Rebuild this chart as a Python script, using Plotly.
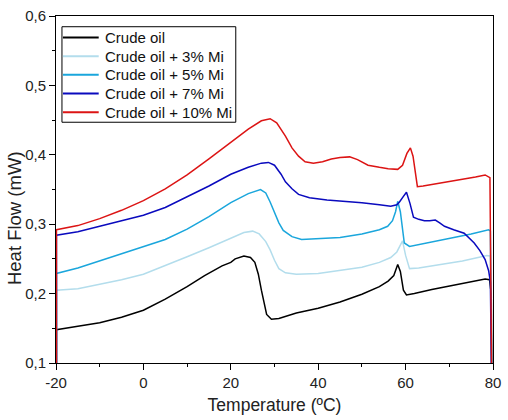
import plotly.graph_objects as go

FONT = "Liberation Sans, Arial, sans-serif"

series_names = ["Crude oil", "Crude oil + 3% Mi", "Crude oil + 5% Mi",
                "Crude oil + 7% Mi", "Crude oil + 10% Mi"]
series_colors = ["#000000", "#B3DDEC", "#1AA6DC", "#0A0ABE", "#DC1414"]

x_tickvals = [-20, 0, 20, 40, 60, 80]
x_ticktext = ["-20", "0", "20", "40", "60", "80"]
y_tickvals = [0.1, 0.2, 0.3, 0.4, 0.5, 0.6]
y_ticktext = ["0,1", "0,2", "0,3", "0,4", "0,5", "0,6"]

t_crude = [-19.9, -19.9, -15, -10, -5, 0, 5, 10, 14, 18, 20, 21, 23, 24.5, 25.5, 26.3, 27, 27.6,
           28.2, 29.3, 31, 35, 40, 45, 50, 54, 56, 57.3, 58.2, 58.8, 59.5, 60.2, 62, 66, 70, 75,
           78.2, 79.2, 79.6, 79.8]
v_crude = [0.0, 0.148, 0.153, 0.158, 0.166, 0.176, 0.192, 0.21, 0.226, 0.240, 0.245, 0.250, 0.254,
           0.252, 0.245, 0.228, 0.205, 0.185, 0.170, 0.163, 0.164, 0.172, 0.179, 0.188, 0.199, 0.21,
           0.218, 0.226, 0.242, 0.232, 0.205, 0.198, 0.200, 0.206, 0.211, 0.217, 0.221, 0.22, 0.2,
           0.0]

t_mi3 = [-19.9, -19.9, -15, -10, -5, 0, 5, 10, 15, 20, 23, 25, 26.5, 28, 29, 30, 31, 32.5, 35, 40,
         45, 50, 54, 56.6, 58, 59.3, 60, 60.9, 63, 68, 73, 78.6, 79.4, 79.8]
v_mi3 = [0.0, 0.205, 0.207, 0.213, 0.22, 0.228, 0.24, 0.253, 0.266, 0.280, 0.288, 0.29, 0.286,
         0.275, 0.263, 0.248, 0.236, 0.23, 0.228, 0.229, 0.233, 0.238, 0.245, 0.252, 0.26, 0.276,
         0.255, 0.236, 0.237, 0.242, 0.247, 0.255, 0.254, 0.0]

t_mi5 = [-19.9, -19.9, -15, -10, -5, 0, 5, 10, 15, 20, 24, 26.8, 28, 29, 29.8, 31, 32, 34, 36.2,
         40, 45, 50, 54, 55.9, 57, 57.7, 58.2, 58.8, 59.3, 59.7, 60.9, 65, 70, 75, 79, 79.4, 79.8]
v_mi5 = [0.0, 0.229, 0.237, 0.247, 0.257, 0.267, 0.278, 0.293, 0.311, 0.331, 0.344, 0.350, 0.345,
         0.332, 0.319, 0.302, 0.291, 0.282, 0.278, 0.279, 0.281, 0.286, 0.292, 0.297, 0.305, 0.318,
         0.333, 0.318, 0.29, 0.273, 0.268, 0.273, 0.279, 0.286, 0.292, 0.29, 0.0]

t_mi7 = [-19.9, -19.9, -15, -10, -5, 0, 5, 10, 15, 20, 24, 27, 28.6, 30, 31.5, 32.5, 34, 35.5, 38,
         42, 46.8, 50, 54, 56.6, 58, 58.6, 59.5, 60.2, 61, 61.8, 63, 64.3, 65.5, 66.8, 67.8, 68.9,
         71, 73.4, 75.7, 77, 78.2, 79, 79.4, 79.8]
v_mi7 = [0.0, 0.284, 0.289, 0.297, 0.305, 0.313, 0.324, 0.339, 0.355, 0.372, 0.382, 0.388, 0.389,
         0.385, 0.372, 0.361, 0.351, 0.343, 0.338, 0.335, 0.333, 0.331, 0.328, 0.326, 0.328, 0.332,
         0.340, 0.346, 0.330, 0.310, 0.307, 0.305, 0.305, 0.306, 0.302, 0.297, 0.292, 0.287, 0.273,
         0.262, 0.249, 0.233, 0.217, 0.0]

t_mi10 = [-19.9, -19.9, -15, -10, -5, 0, 5, 10, 15, 20, 24, 27, 29, 30.5, 32.5, 34, 35.5, 37, 38.9,
          41, 43, 45, 47.2, 49, 51.4, 54, 56, 58.2, 59.3, 60.3, 61.1, 61.7, 62.2, 62.7, 64, 68, 72,
          76, 78.2, 79.3, 79.8]
v_mi10 = [0.0, 0.292, 0.298, 0.308, 0.32, 0.334, 0.351, 0.371, 0.394, 0.418, 0.437, 0.449, 0.452,
          0.446, 0.427, 0.41, 0.398, 0.39, 0.388, 0.39, 0.394, 0.396, 0.397, 0.393, 0.385, 0.382,
          0.38, 0.379, 0.385, 0.402, 0.410, 0.398, 0.375, 0.354, 0.355, 0.359, 0.363, 0.368, 0.371,
          0.367, 0.0]

x_data = [t_crude, t_mi3, t_mi5, t_mi7, t_mi10]
y_data = [v_crude, v_mi3, v_mi5, v_mi7, v_mi10]

W, H = 508, 420
ML, MR, MT, MB = 56, 12, 7, 57
PW, PH = W - ML - MR, H - MT - MB


def px_x(p):
    return (p - ML) / PW


def px_y(p):
    return (H - MB - p) / PH


fig = go.Figure()
for name, color, xs, ys in zip(series_names, series_colors, x_data, y_data):
    fig.add_trace(go.Scatter(x=xs, y=ys, mode="lines", name=name, showlegend=False,
                             line=dict(color=color, width=1.5)))

axis_common = dict(
    showline=True, linecolor="black", linewidth=1, mirror=True,
    showgrid=False, zeroline=False,
    ticks="outside", ticklen=6, tickwidth=1, tickcolor="black",
    ticklabeloverflow="allow",
    tickfont=dict(family=FONT, size=15, color="#222222"),
)

# manual legend (box, sample lines, labels)
shapes = [dict(type="rect", xref="paper", yref="paper",
               x0=px_x(62), x1=px_x(237), y0=px_y(116), y1=px_y(18),
               line=dict(color="black", width=1), fillcolor="white", layer="above")]
annotations = []
for i, (name, color) in enumerate(zip(series_names, series_colors)):
    cy = 29 + i * 19.2
    shapes.append(dict(type="line", xref="paper", yref="paper",
                       x0=px_x(63), x1=px_x(99), y0=px_y(cy), y1=px_y(cy),
                       line=dict(color=color, width=2), layer="above"))
    annotations.append(dict(xref="paper", yref="paper", x=px_x(103), y=px_y(cy),
                            xanchor="left", yanchor="middle", showarrow=False,
                            text=name, font=dict(family=FONT, size=15, color="#111111")))

annotations.append(dict(xref="paper", yref="paper", x=px_x(14), y=px_y(214),
                        xanchor="center", yanchor="middle", showarrow=False, textangle=-90,
                        text="Heat Flow (mW)", font=dict(family=FONT, size=18.5, color="#222222")))

fig.update_layout(
    width=W, height=H,
    margin=dict(l=ML, r=MR, t=MT, b=MB),
    paper_bgcolor="white", plot_bgcolor="white",
    font=dict(family=FONT, color="#222222"),
    xaxis=dict(range=[-20, 80], tickvals=x_tickvals, ticktext=x_ticktext,
               minor=dict(ticks="outside", dtick=10, ticklen=3, tickcolor="black"),
               title=dict(text="Temperature (ºC)", font=dict(family=FONT, size=17.5),
                          standoff=8),
               **axis_common),
    yaxis=dict(range=[0.1, 0.6], tickvals=y_tickvals, ticktext=y_ticktext,
               minor=dict(ticks="outside", tick0=0.1, dtick=0.05, ticklen=3, tickcolor="black"),
               **axis_common),
    shapes=shapes,
    annotations=annotations,
    showlegend=False,
)

fig.write_html("out.html")
